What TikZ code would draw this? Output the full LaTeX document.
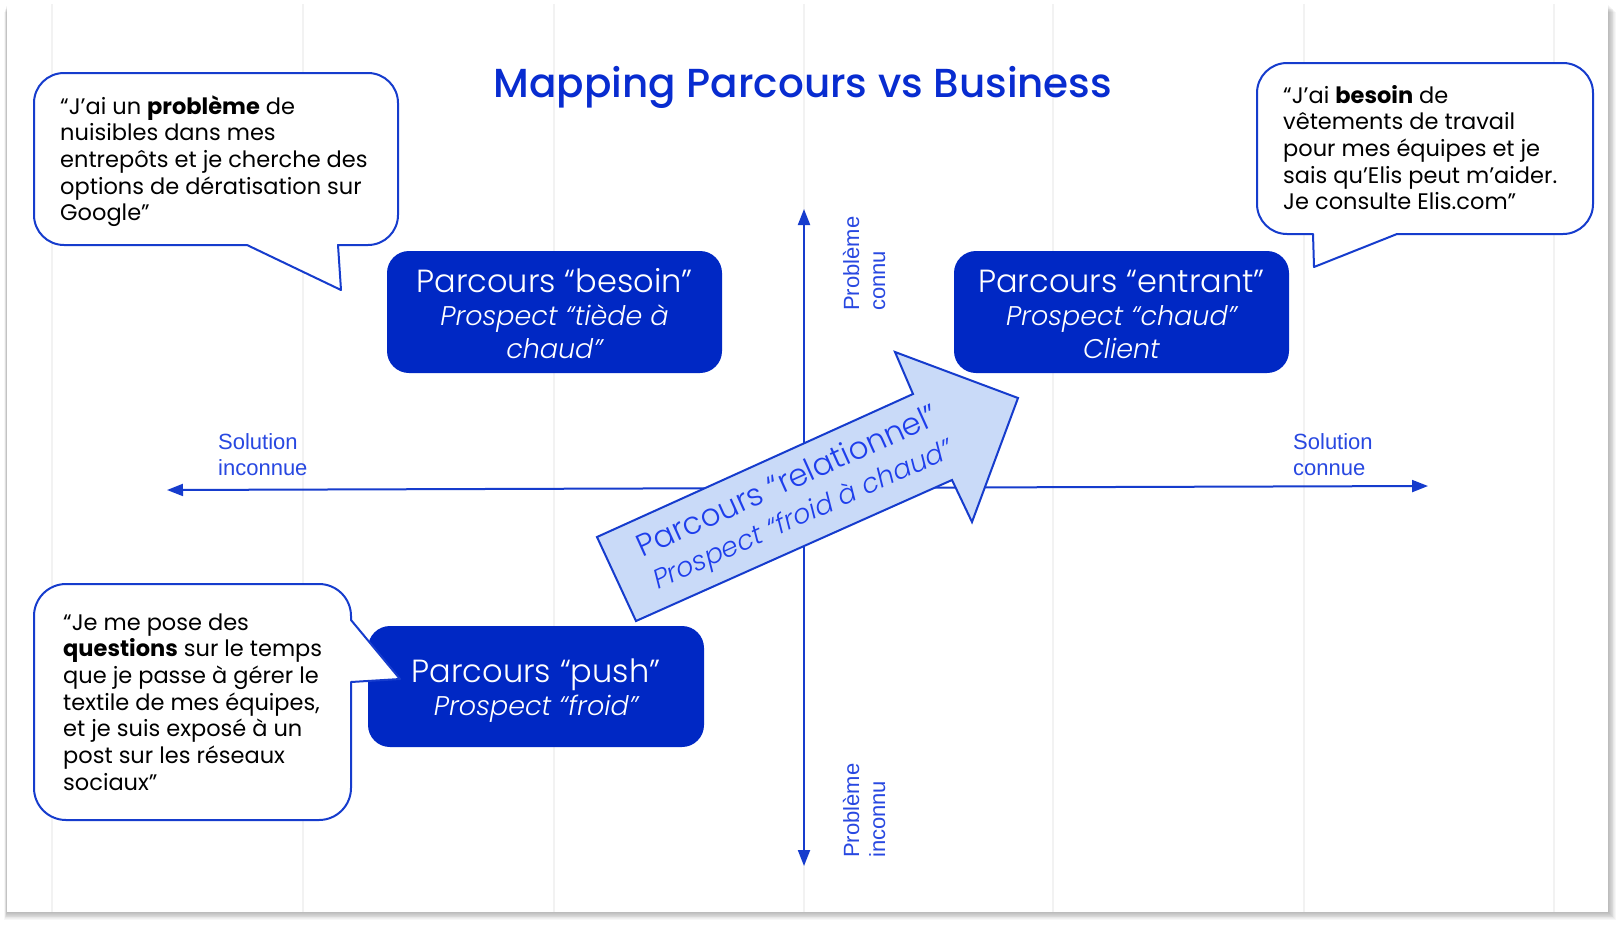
\documentclass[tikz,border=0pt]{standalone}
\usepackage{fontspec}
\usetikzlibrary{arrows.meta}
\setmainfont{Poppins}
\IfFontExistsTF{Poppins Light}{%
  \IfFontExistsTF{Poppins Light Italic}
    {\newfontfamily\lightfont{Poppins Light}[ItalicFont={Poppins Light Italic}]}
    {\newfontfamily\lightfont{Poppins Light}}}
  {\newfontfamily\lightfont{Poppins}}
\IfFontExistsTF{Poppins Medium}
  {\newfontfamily\titlefont{Poppins Medium}}
  {\newfontfamily\titlefont{Poppins}}
\newfontfamily\axisfont{Liberation Sans}

\definecolor{boxblue}{RGB}{0,40,196}
\definecolor{titleblue}{RGB}{8,44,208}
\definecolor{lineblue}{RGB}{22,60,205}
\definecolor{labelblue}{RGB}{40,72,225}
\definecolor{arrowfill}{RGB}{201,218,248}
\definecolor{arrowtext}{RGB}{30,62,236}
\definecolor{gridgray}{RGB}{242,242,242}

\tikzset{
  pbox/.style={fill=boxblue, rounded corners=22pt, minimum width=335pt,
    minimum height=122pt, inner sep=0pt},
  boxtext/.style={text=white, inner sep=0pt, anchor=base,
    font=\lightfont\fontsize{32}{33}\selectfont},
  bubble/.style={fill=white, draw=lineblue, line width=2pt, line join=round},
  quote/.style={inner sep=0pt, anchor=base west, text=black,
    font=\fontsize{22.5}{26.7}\selectfont},
  axisline/.style={draw=lineblue, line width=2pt,
    {Triangle[length=16pt,width=12pt]}-{Triangle[length=16pt,width=12pt]}},
  axislabel/.style={text=labelblue, inner sep=0pt, anchor=base west,
    font=\axisfont\fontsize{22}{26}\selectfont},
  bigarrow/.style={fill=arrowfill, draw=lineblue, line width=2pt, line join=miter},
}

\newcommand{\topcol}[2][l]{\begin{tabular}[t]{@{}#1@{}}#2\end{tabular}}

\begin{document}
\begin{tikzpicture}[x=1pt,y=-1pt]
\useasboundingbox (0,0) rectangle (1616,924);
\fill[white] (0,0) rectangle (1616,924);

% sheet with soft drop shadow
\foreach \i in {1,...,9}
  \fill[black,opacity=0.03] (7-0.3*\i,4+0.9*\i) rectangle (1608+0.9*\i,912+0.9*\i);
\fill[white] (7,4) rectangle (1608,912);
\foreach \gx in {52,303,554,804,1053,1304,1554}
  \draw[gridgray,line width=1.5pt] (\gx,4) -- (\gx,912);

% title
\node[inner sep=0pt, anchor=base, text=titleblue,
      font=\titlefont\fontsize{40.5}{44}\selectfont] (title) at (803,97)
  {Mapping Parcours vs Business};

% axes
\coordinate (ytop) at (804,209);
\coordinate (ybot) at (804,866);
\coordinate (xleft) at (167,490);
\coordinate (xright) at (1428,486);
\draw[axisline] (ybot) -- (ytop);
\draw[axisline] (xleft) -- (xright);

\node[axislabel] (solinc) at (218,449) {\topcol{Solution\\inconnue}};
\node[axislabel] (solcon) at (1293,449) {\topcol{Solution\\connue}};
\node[axislabel, rotate=90] (probcon) at (859,311) {\topcol{Problème\\connu}};
\node[axislabel, rotate=90] (probinc) at (859,858) {\topcol{Problème\\inconnu}};

% relational journey arrow
\coordinate (a1) at (597,537);
\coordinate (a2) at (913,394);
\coordinate (a3) at (895,352);
\coordinate (a4) at (1018,398);
\coordinate (a5) at (972,522);
\coordinate (a6) at (952,480);
\coordinate (a7) at (636,621);
\draw[bigarrow] (a1) -- (a2) -- (a3) -- (a4) -- (a5) -- (a6) -- (a7) -- cycle;
\node[inner sep=0pt, rotate=24.3, text=arrowtext,
      font=\lightfont\fontsize{31}{36}\selectfont] (reltext) at (796,500)
  {\topcol[c]{Parcours “relationnel”\\ \fontsize{27}{36}\selectfont\itshape Prospect “froid à chaud”}};

% journey boxes
\node[pbox] (besoin) at (554.5,312) {};
\node[boxtext] (besointxt) at (554.5,292)
  {\topcol[c]{Parcours “besoin”\\ \fontsize{27}{33}\selectfont\itshape Prospect “tiède à\\ \fontsize{27}{33}\selectfont\itshape chaud”}};
\node[pbox] (entrant) at (1121.5,312) {};
\node[boxtext] (entranttxt) at (1121.5,292)
  {\topcol[c]{Parcours “entrant”\\ \fontsize{27}{33}\selectfont\itshape Prospect “chaud”\\ \fontsize{27}{33}\selectfont\itshape Client}};
\node[pbox, minimum width=336pt, minimum height=121pt] (push) at (536,686.5) {};
\node[boxtext] (pushtxt) at (536,682)
  {\topcol[c]{Parcours “push”\\ \fontsize{27}{33}\selectfont\itshape Prospect “froid”}};

% speech bubbles
\draw[bubble] (64,73) -- (368,73) arc[start angle=-90,end angle=0,radius=30]
  -- (398,215) arc[start angle=0,end angle=90,radius=30]
  -- (338,245) -- (341,290) -- (247,245)
  -- (64,245) arc[start angle=90,end angle=180,radius=30]
  -- (34,103) arc[start angle=180,end angle=270,radius=30] -- cycle;
\node[quote] (q1) at (60,114)
  {\topcol{“J’ai un \textbf{problème} de\\nuisibles dans mes\\entrepôts et je cherche des\\options de dératisation sur\\Google”}};

\draw[bubble] (1287,63) -- (1563,63) arc[start angle=-90,end angle=0,radius=30]
  -- (1593,204) arc[start angle=0,end angle=90,radius=30]
  -- (1397,234) -- (1314,267) -- (1313,234)
  -- (1287,234) arc[start angle=90,end angle=180,radius=30]
  -- (1257,93) arc[start angle=180,end angle=270,radius=30] -- cycle;
\node[quote] (q2) at (1283,103)
  {\topcol{“J’ai \textbf{besoin} de\\vêtements de travail\\pour mes équipes et je\\sais qu’Elis peut m’aider.\\Je consulte Elis.com”}};

\draw[bubble] (66,584) -- (319,584) arc[start angle=-90,end angle=0,radius=32]
  -- (351,620) -- (400,679) -- (351,682)
  -- (351,788) arc[start angle=0,end angle=90,radius=32]
  -- (66,820) arc[start angle=90,end angle=180,radius=32]
  -- (34,616) arc[start angle=180,end angle=270,radius=32] -- cycle;
\node[quote] (q3) at (63,630)
  {\topcol{“Je me pose des\\\textbf{questions} sur le temps\\que je passe à gérer le\\textile de mes équipes,\\et je suis exposé à un\\post sur les réseaux\\sociaux”}};
\end{tikzpicture}
\end{document}
